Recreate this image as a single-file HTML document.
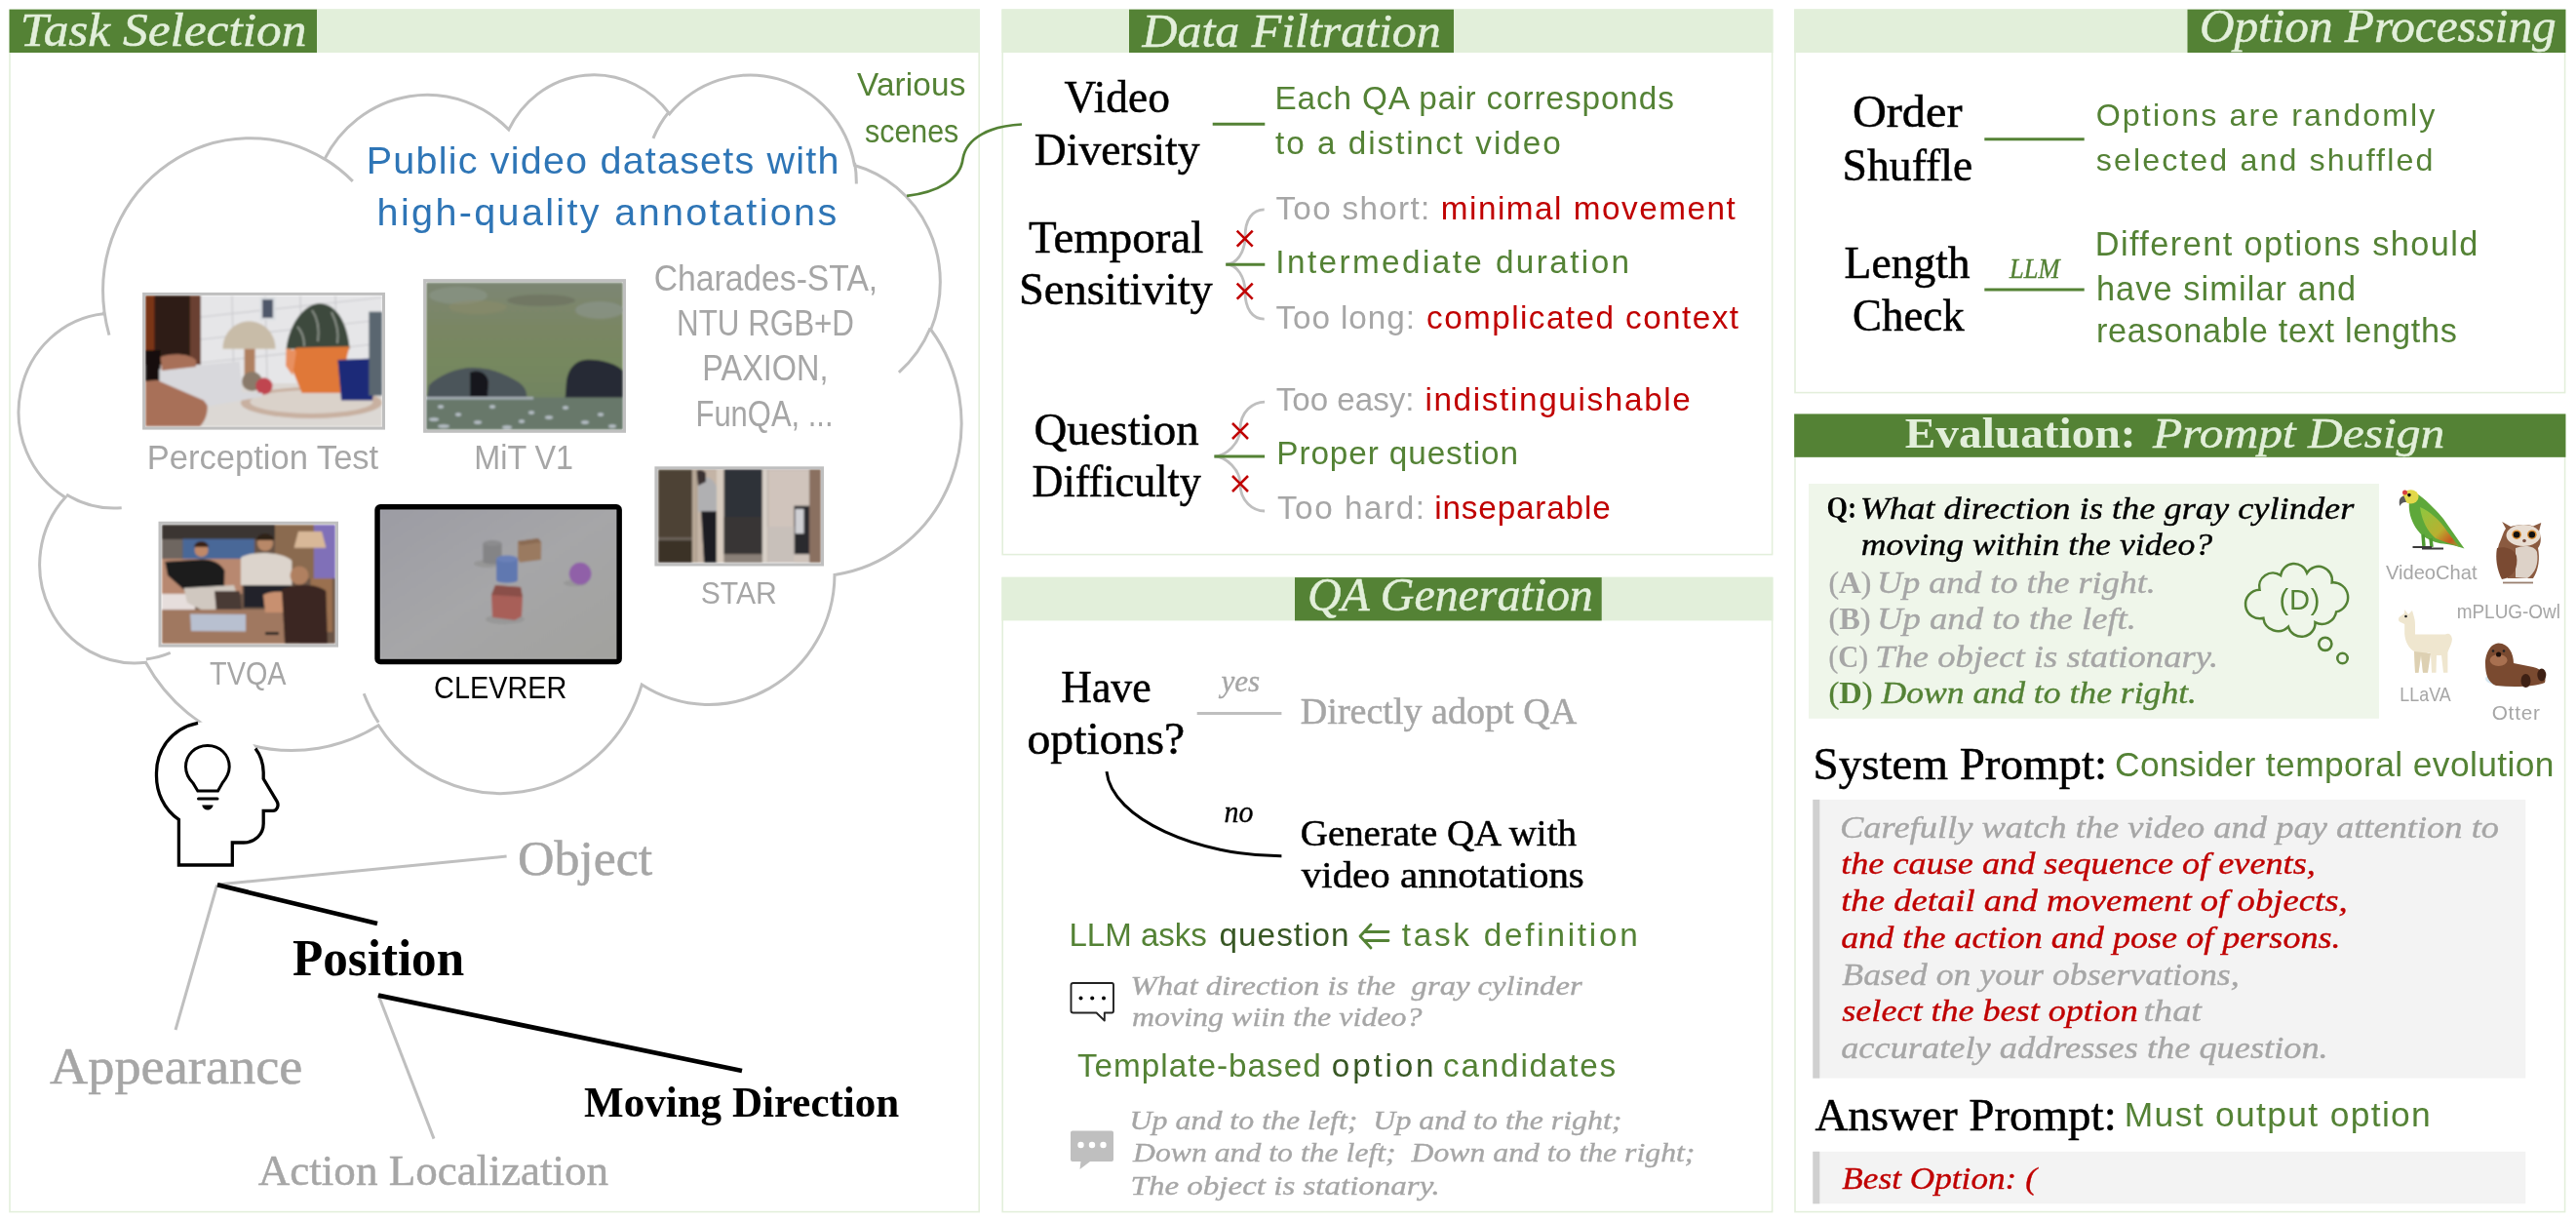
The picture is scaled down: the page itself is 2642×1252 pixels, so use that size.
<!DOCTYPE html><html><head><meta charset="utf-8"><style>html,body{margin:0;padding:0;background:#fff;overflow:hidden}svg{display:block;will-change:transform}</style></head><body>
<svg width="2642" height="1252" viewBox="0 0 2642 1252">
<rect width="2642" height="1252" fill="#fff"/>
<defs><filter id="soft" x="-5%" y="-5%" width="110%" height="110%"><feGaussianBlur stdDeviation="0.9"/></filter></defs>
<rect x="10.0" y="10.0" width="994.2" height="1232.6" fill="#fff" stroke="#e3efdb" stroke-width="1.6"/>
<rect x="9.2" y="9.7" width="995.8" height="44.3" fill="#e2efda"/>
<rect x="9.6" y="9.7" width="315.4" height="44.3" fill="#548235"/>
<rect x="1028.2" y="10.0" width="789.4" height="558.6" fill="#fff" stroke="#e3efdb" stroke-width="1.6"/>
<rect x="1027.4" y="9.7" width="791.0" height="44.3" fill="#e2efda"/>
<rect x="1158.0" y="9.7" width="333.0" height="44.3" fill="#548235"/>
<rect x="1028.2" y="592.4" width="789.4" height="650.2" fill="#fff" stroke="#e3efdb" stroke-width="1.6"/>
<rect x="1027.4" y="592.1" width="791.0" height="44.3" fill="#e2efda"/>
<rect x="1328.0" y="592.1" width="314.7" height="44.3" fill="#548235"/>
<rect x="1841.0" y="10.0" width="789.6" height="392.6" fill="#fff" stroke="#e3efdb" stroke-width="1.6"/>
<rect x="1840.2" y="9.7" width="791.2" height="44.3" fill="#e2efda"/>
<rect x="2243.5" y="9.7" width="387.9" height="44.3" fill="#548235"/>
<rect x="1841.0" y="424.8" width="789.6" height="817.8" fill="#fff" stroke="#e3efdb" stroke-width="1.6"/>
<rect x="1840.2" y="424.5" width="791.2" height="44.3" fill="#e2efda"/>
<rect x="1840.2" y="424.5" width="791.2" height="44.3" fill="#548235"/>
<path d="M107.0 319.4 A151.0 156.7 0 0 1 332.9 163.1 A119.2 123.9 0 0 1 521.8 132.9 A97.6 101.4 0 0 1 686.7 116.7 A108.6 112.4 0 0 1 876.4 169.5 A119.2 124.0 0 0 1 954.7 338.0 A151.5 157.2 0 0 1 856.0 589.4 A129.3 134.1 0 0 1 658.2 702.1 A151.0 157.1 0 0 1 388.2 743.8 A172.6 179.8 0 0 1 149.5 679.2 A97.5 100.9 0 0 1 67.0 510.0 A97.1 101.4 0 0 1 106.1 321.7 Z M124.7 520.7 A97.1 101.4 0 0 1 68.1 507.1 M174.7 669.4 A97.5 100.9 0 0 1 149.9 675.9 M388.2 740.9 A151.0 157.1 0 0 1 373.2 711.2 M954.2 336.2 A119.2 124.0 0 0 1 921.9 381.8 M876.6 166.9 A108.6 112.4 0 0 1 878.3 188.5 M669.9 141.8 A108.6 112.4 0 0 1 686.4 114.3 M332.8 162.9 A151.0 156.7 0 0 1 361.8 185.9 M112.0 343.6 A151.0 156.7 0 0 1 107.0 319.4" fill="none" stroke="#bfbfbf" stroke-width="3"/>
<path d="M203,741.3 C175,747 160,770 160.5,793.7 C160,812 168,830 183.4,840.4 L183.4,887 L238.3,887 L238.3,864 L249.7,864 C262,864 270.2,855 270.2,844.5 L270.2,831.4 L280,831.4 C284,831.4 286.5,826 284,821.6 L270.2,798.6 L270.2,792 C270,782 267,774 262,767.5 C250,745 225,736 203,741.3 Z" fill="#fff"/>
<path d="M203,741.3 C175,747 160,770 160.5,793.7 C160,812 168,830 183.4,840.4 L183.4,887 L238.3,887 L238.3,864 L249.7,864 C262,864 270.2,855 270.2,844.5 L270.2,831.4 L280,831.4 C284,831.4 286.5,826 284,821.6 L270.2,798.6 L270.2,792 C270,782 267,774 262,767.5" fill="none" stroke="#000" stroke-width="3.3" stroke-linejoin="miter"/>
<path d="M202.8,811 L198,803 C192,797 190.5,792 190.5,786.3 C190.5,774 200,764.5 212.9,764.5 C225.5,764.5 235.2,774 235.2,786.3 C235.2,792 233,797 228,803 L223.5,811 Z" fill="none" stroke="#000" stroke-width="3"/>
<line x1="203.5" y1="819" x2="223" y2="819" stroke="#000" stroke-width="3" stroke-linecap="round"/>
<path d="M207.2,825.5 L218.6,825.5 C218,829 215.5,830.5 212.9,830.5 C210.3,830.5 207.8,829 207.2,825.5 Z" fill="#000"/>
<line x1="222.6" y1="907" x2="519.6" y2="878" stroke="#bfbfbf" stroke-width="3"/>
<line x1="222.6" y1="907.5" x2="180" y2="1056" stroke="#bfbfbf" stroke-width="3"/>
<line x1="388" y1="1020" x2="445" y2="1167.6" stroke="#bfbfbf" stroke-width="3"/>
<line x1="223" y1="907.3" x2="387" y2="947" stroke="#000" stroke-width="4.7"/>
<line x1="388" y1="1020.6" x2="761" y2="1098" stroke="#000" stroke-width="4.7"/>
<path d="M930.1,200.9 C962,197 985,184 987.5,163 C991,141 1016,129 1048,127.5" fill="none" stroke="#548235" stroke-width="2.7"/>
<line x1="1243.7" y1="127.2" x2="1297.3" y2="127.2" stroke="#548235" stroke-width="3"/>
<path d="M1296.7,214.9 C1284.7,214.9 1277.0,224.9 1277.0,242.9 C1277.0,257.0 1269.2,271.0 1257.2,271.0 C1269.2,271.0 1277.0,285.0 1277.0,299.1 C1277.0,317.2 1284.7,327.2 1296.7,327.2" fill="none" stroke="#bfbfbf" stroke-width="2.8"/>
<line x1="1257.2" y1="271.3" x2="1297.3" y2="271.3" stroke="#548235" stroke-width="3"/>
<path d="M1297.1,412.1 C1285.1,412.1 1272.0,422.1 1272.0,440.1 C1272.0,454.0 1257.4,468.0 1245.4,468.0 C1257.4,468.0 1272.0,482.0 1272.0,496.0 C1272.0,514.0 1285.1,524.0 1297.1,524.0" fill="none" stroke="#bfbfbf" stroke-width="2.8"/>
<line x1="1245.4" y1="468" x2="1297.1" y2="468" stroke="#548235" stroke-width="3"/>
<path d="M1268.7,236.7 L1284.7,252.7 M1268.7,252.7 L1284.7,236.7" stroke="#c00000" stroke-width="2.6"/>
<path d="M1268.7,290.6 L1284.7,306.6 M1268.7,306.6 L1284.7,290.6" stroke="#c00000" stroke-width="2.6"/>
<path d="M1264.0,434.0 L1280.0,450.0 M1264.0,450.0 L1280.0,434.0" stroke="#c00000" stroke-width="2.6"/>
<path d="M1264.0,488.0 L1280.0,504.0 M1264.0,504.0 L1280.0,488.0" stroke="#c00000" stroke-width="2.6"/>
<line x1="1227.7" y1="731.5" x2="1314.4" y2="731.5" stroke="#bfbfbf" stroke-width="3"/>
<path d="M1135,791.2 C1140,840 1230,878 1314.4,877.8" fill="none" stroke="#000" stroke-width="3"/>
<path d="M1424,955.5 L1400,955.5 M1424,964.5 L1400,964.5 M1406,948 L1395,960 L1406,972" fill="none" stroke="#548235" stroke-width="2.8" stroke-linecap="round" stroke-linejoin="round"/>
<path d="M1100.8,1008 L1140.2,1008 Q1142,1008 1142,1010 L1142,1036.5 Q1142,1038.5 1140.2,1038.5 L1132.8,1038.5 L1132.8,1046.5 L1124.5,1038.5 L1100.8,1038.5 Q1098.5,1038.5 1098.5,1036.5 L1098.5,1010 Q1098.5,1008 1100.8,1008 Z" fill="#fff" stroke="#222" stroke-width="1.9" stroke-linejoin="round"/>
<circle cx="1108.5" cy="1023.5" r="2" fill="#000"/>
<circle cx="1120.2" cy="1023.5" r="2" fill="#000"/>
<circle cx="1132.0" cy="1023.5" r="2" fill="#000"/>
<path d="M1100,1159.6 L1140,1159.6 Q1142,1159.6 1142,1161.6 L1142,1189 Q1142,1191 1140,1191 L1118,1191 L1107.5,1199 L1108.5,1191 L1100,1191 Q1098,1191 1098,1189 L1098,1161.6 Q1098,1159.6 1100,1159.6 Z" fill="#bfbfbf"/>
<circle cx="1108.5" cy="1174" r="3.2" fill="#fff"/>
<circle cx="1120.0" cy="1174" r="3.2" fill="#fff"/>
<circle cx="1131.5" cy="1174" r="3.2" fill="#fff"/>
<line x1="2035.3" y1="142.8" x2="2137.7" y2="142.8" stroke="#548235" stroke-width="3"/>
<line x1="2035.3" y1="296.9" x2="2137.7" y2="296.9" stroke="#548235" stroke-width="3"/>
<rect x="1855" y="496" width="585" height="240.8" fill="#eff6ea"/>
<path d="M2339.1 590.0 A13.91 13.91 0 0 1 2366.1 587.6 A13.93 13.93 0 0 1 2391.7 597.4 A15.19 15.19 0 0 1 2396.1 627.4 A14.91 14.91 0 0 1 2374.5 638.2 A14.02 14.02 0 0 1 2347.0 642.6 A15.04 15.04 0 0 1 2321.4 633.8 A14.73 14.73 0 1 1 2317.5 604.8 A13.99 13.99 0 0 1 2339.1 590.0 Z" fill="none" stroke="#548235" stroke-width="2.5" stroke-linejoin="miter"/>
<circle cx="2384.8" cy="660.3" r="6.6" fill="none" stroke="#548235" stroke-width="2.6"/>
<circle cx="2402.5" cy="675" r="5.2" fill="none" stroke="#548235" stroke-width="2.6"/>
<rect x="1859.3" y="819.9" width="731" height="285.7" fill="#f3f3f3"/>
<rect x="1859.3" y="819.9" width="7" height="285.7" fill="#d0d0d0"/>
<rect x="1859.3" y="1180.8" width="731" height="53.5" fill="#f3f3f3"/>
<rect x="1859.3" y="1180.8" width="7" height="53.5" fill="#d0d0d0"/>
<g filter="url(#soft)"><clipPath id="cpt"><rect x="149.2" y="303" width="242.7" height="134.5"/></clipPath><g clip-path="url(#cpt)"><rect x="149" y="303" width="243" height="135" fill="#e6e6e8"/><path d="M206,325 L392,305 M206,348 L392,328 M206,372 L392,352 M238,303 L240,393 M272,303 L274,393 M308,303 L310,393 M344,303 L346,393" stroke="#cacace" stroke-width="1.2"/><rect x="149" y="303" width="57" height="71" fill="#2e1a12"/><rect x="149" y="303" width="9.4" height="58" fill="#7a3414"/><rect x="195" y="303" width="11" height="71" fill="#6a4030"/><rect x="149" y="359" width="15.6" height="32" fill="#141010"/><rect x="149" y="393" width="243" height="45" fill="#dcd8d4"/><ellipse cx="319.4" cy="413" rx="72.5" ry="16" fill="#c8b0a0"/><ellipse cx="319.4" cy="412" rx="63" ry="12" fill="#dad2ca"/><rect x="266.6" y="304.8" width="15.9" height="23.4" fill="#d8dce0"/><rect x="269" y="307" width="11" height="19" fill="#50586a"/><path d="M228.5,357.7 C228.5,340 242,329.4 255.5,329.4 C269,329.4 282.5,340 282.5,357.7 Z" fill="#c8bca8"/><rect x="250.6" y="357.7" width="11" height="40" fill="#b08060"/><ellipse cx="258.5" cy="391" rx="10.5" ry="10" fill="#8a7a6a"/><path d="M293.6,357.7 C296,335 310,312 328,311 C345,312 356,330 358.7,357.7 Z" fill="#3c4a3c"/><path d="M320,318 C325,325 328,335 326,350 M340,320 C345,330 348,340 346,352 M305,335 C310,340 312,348 312,355" stroke="#8a9088" stroke-width="2" fill="none"/><path d="M304.7,356.4 L358.7,355.2 L356.3,363.8 L348.9,403.1 L309.6,403.1 L293.6,363.8 Z" fill="#e07838"/><path d="M293.6,357 L304,360 L300,385 L293,375 Z" fill="#e89060"/><circle cx="270.9" cy="395.8" r="8.6" fill="#c04450"/><path d="M346.4,369 L383,367.5 L385.8,376 C392,378 392,392 384,395 L382,410.5 L350,410.5 Z" fill="#1c2a78"/><rect x="378.4" y="319.6" width="13.5" height="86" fill="#5a6670"/><path d="M149,391 C165,388 185,392 200,400 L212,412 C214,420 212,430 205,437.5 L149,437.5 Z" fill="#a87058"/><path d="M163.3,378.6 L245.7,370.6 L248.1,401.9 L269,403.1 L269,406.8 L213.7,416.7 L208.8,410.5 L163.3,390.8 Z" fill="#d8d8dc"/><path d="M164.6,366 C175,362 195,362 201.4,370 L201,376 L166,380 Z" fill="#a87058"/></g></g>
<rect x="147.6" y="301.4" width="245.9" height="137.7" fill="none" stroke="#bfbfbf" stroke-width="3.0"/>
<g filter="url(#soft)"><linearGradient id="gmit" x1="0" y1="0" x2="0" y2="1"><stop offset="0" stop-color="#7c8674"/><stop offset="0.3" stop-color="#7a8664"/><stop offset="0.55" stop-color="#76885e"/><stop offset="0.78" stop-color="#728462"/><stop offset="1" stop-color="#66766a"/></linearGradient><rect x="437" y="289.5" width="202" height="151" fill="url(#gmit)"/><ellipse cx="470" cy="303" rx="30" ry="9" fill="#8a9486" opacity="0.7"/><ellipse cx="555" cy="308" rx="35" ry="6" fill="#6a6e5e" opacity="0.6"/><ellipse cx="615" cy="318" rx="25" ry="9" fill="#8e9890" opacity="0.6"/><ellipse cx="490" cy="315" rx="30" ry="7" fill="#8e8c6a" opacity="0.5"/><path d="M438,408.4 L440,395 C450,385 468,377 485,377 C505,377 520,385 532,392 C538,396 541,402 540,408.4 Z" fill="#4c545a"/><path d="M482,382 C490,378 500,382 501,392 L500,407 L482,407 Z" fill="#16191e"/><path d="M579.5,409.8 L581,390 C583,378 590,370 600,369 C615,368 630,372 638.7,380 L638.7,409.8 Z" fill="#262a36"/><rect x="437" y="407.5" width="202" height="33" fill="#68786a"/><rect x="437" y="407" width="110" height="2.5" fill="#a8b0b8"/><ellipse cx="445" cy="430" rx="5" ry="1.8" fill="#b8c0c8"/><ellipse cx="455" cy="437" rx="6" ry="1.8" fill="#b8c0c8"/><ellipse cx="470" cy="425" rx="3" ry="1.8" fill="#b8c0c8"/><ellipse cx="490" cy="433" rx="4" ry="1.8" fill="#b8c0c8"/><ellipse cx="520" cy="438" rx="5" ry="1.8" fill="#b8c0c8"/><ellipse cx="545" cy="423" rx="3" ry="1.8" fill="#b8c0c8"/><ellipse cx="563" cy="428" rx="4" ry="1.8" fill="#b8c0c8"/><ellipse cx="580" cy="418" rx="3" ry="1.8" fill="#b8c0c8"/><ellipse cx="600" cy="433" rx="4" ry="1.8" fill="#b8c0c8"/><ellipse cx="616" cy="425" rx="3" ry="1.8" fill="#b8c0c8"/><ellipse cx="628" cy="437" rx="4" ry="1.8" fill="#b8c0c8"/><ellipse cx="505" cy="417" rx="3" ry="1.8" fill="#b8c0c8"/><ellipse cx="535" cy="432" rx="3" ry="1.8" fill="#b8c0c8"/><ellipse cx="452" cy="417" rx="3" ry="1.8" fill="#b8c0c8"/></g>
<rect x="435.6" y="287.6" width="204.9" height="154.7" fill="none" stroke="#bfbfbf" stroke-width="3.0"/>
<g filter="url(#soft)"><rect x="166" y="538" width="178" height="122" fill="#6a5446"/><rect x="166" y="538" width="178" height="15" fill="#3a3430"/><rect x="166" y="553" width="21.4" height="21" fill="#6e6660"/><rect x="187.4" y="552.6" width="73.5" height="21.4" fill="#4a6898"/><rect x="282" y="538" width="40" height="55" fill="#8a6a50"/><rect x="322" y="538" width="22" height="55" fill="#8070b8"/><path d="M306,545 L330,545 L334.4,561.7 L301.6,561.7 Z" fill="#d8b898"/><rect x="318.5" y="593" width="22.5" height="55" fill="#9a7050"/><rect x="166" y="573" width="82.4" height="36" fill="#b88870"/><path d="M169.3,576 L200,574 C215,572 225,576 230.4,585 L230,603.5 L190,606 L172,590 Z" fill="#1c1c1c"/><circle cx="206.6" cy="564" r="7" fill="#c08868"/><path d="M199,561 C200,553 213,553 214,561 Z" fill="#3a2418"/><rect x="166" y="609" width="34" height="18" fill="#e6dedc"/><path d="M188.5,603 L240,600 L246,620 L210,627 L192,618 Z" fill="#d0c8c0"/><path d="M220,606 L246,606 L248,628 L222,628 Z" fill="#4a3a34"/><path d="M247,572 C255,565 290,565 299.3,575 L299.3,600 L247,600 Z" fill="#dcd4cc"/><circle cx="272" cy="557" r="8" fill="#b88868"/><path d="M263,554 C264,545 280,545 281,554 Z" fill="#2e2018"/><rect x="250" y="600" width="48" height="23" fill="#24242a"/><rect x="166" y="625" width="141" height="35" fill="#a07860"/><path d="M270,610 C280,605 295,606 300,612 L300,628 L272,628 Z" fill="#c89070"/><path d="M289,604.6 C300,598 325,598 334.4,606 L336,659.8 L292,659.8 Z" fill="#3a2820"/><circle cx="307" cy="590" r="9.5" fill="#b08060"/><path d="M195,629.5 L252,630 L252,647.6 L196,647 Z" fill="#b8c0d0"/><rect x="272" y="648" width="14" height="3" fill="#202020"/></g>
<rect x="164.0" y="536.2" width="181.5" height="125.9" fill="none" stroke="#bfbfbf" stroke-width="3.0"/>
<g filter="url(#soft)"><linearGradient id="gcl" x1="0" y1="0" x2="1" y2="1"><stop offset="0" stop-color="#9c9ca4"/><stop offset="0.5" stop-color="#a6a6a8"/><stop offset="1" stop-color="#a2a29e"/></linearGradient><rect x="389" y="521.5" width="245" height="155" fill="url(#gcl)"/><ellipse cx="500" cy="578" rx="14" ry="4" fill="#969696"/><ellipse cx="518" cy="635" rx="20" ry="5" fill="#989898"/><ellipse cx="590" cy="598" rx="12" ry="3.5" fill="#989898"/><rect x="495.4" y="557" width="19.2" height="19" fill="#848486"/><ellipse cx="505" cy="557" rx="9.6" ry="3" fill="#8c8c8e"/><ellipse cx="505" cy="576" rx="9.6" ry="2.5" fill="#848486"/><path d="M531,555 L552,552 L555.2,556 L555,574 L533,576.8 L531,573 Z" fill="#9a7a60"/><path d="M531,555 L552,552 L555.2,556 L534,559 Z" fill="#8a6a52"/><rect x="509" y="573" width="22" height="22" fill="#6078b0"/><ellipse cx="520" cy="573" rx="11" ry="3.5" fill="#6a80b8"/><ellipse cx="520" cy="595" rx="11" ry="2.8" fill="#6078b0"/><circle cx="595.1" cy="588.2" r="11.4" fill="#9060a8"/><path d="M504,610 L508,600 L534,602 L536,612 L535,632 L528,636 L505,633 Z" fill="#a85e58"/><path d="M504,610 L508,600 L534,602 L536,612 Z" fill="#8a5048"/></g>
<rect x="387.05" y="519.75" width="248.1" height="158.8" rx="3" fill="none" stroke="#000" stroke-width="5.5"/>
<g filter="url(#soft)"><rect x="675" y="481.3" width="167" height="95.5" fill="#4e4236"/><rect x="675" y="552.3" width="35" height="24.5" fill="#3a3028"/><rect x="675" y="551" width="35" height="3" fill="#6a6058"/><rect x="709.9" y="481.3" width="4.7" height="95.5" fill="#b8a898"/><rect x="714.6" y="481.3" width="28" height="95.5" fill="#c4b4a6"/><path d="M716,495 C718,488 728,488 732,494 L738.8,505 L739,525 L716,525 Z" fill="#b0b0b2"/><path d="M714.6,483 C716,481.3 722,481.3 724,485 L724,494 L716,498 Z" fill="#3a3030"/><path d="M719,524.3 L739.8,524.3 L738,576.8 L722,576.8 Z" fill="#1a1c24"/><rect x="735" y="481.3" width="7.6" height="95.5" fill="#d8ccc0"/><rect x="742.6" y="481.3" width="39.2" height="87" fill="#2e3038"/><rect x="742.6" y="530" width="39.2" height="38" fill="#383634"/><rect x="742.6" y="568.2" width="39.2" height="8.6" fill="#8a8078"/><rect x="781.8" y="481.3" width="5.6" height="95.5" fill="#d8d0c8"/><rect x="787.4" y="481.3" width="43" height="95.5" fill="#d0c4bc"/><rect x="814.5" y="518.7" width="15.8" height="49.5" fill="#2a2a2e"/><rect x="815.5" y="522" width="9" height="25" fill="#d0d0d4"/><rect x="787.4" y="540" width="27" height="36.8" fill="#c8c0ba"/><rect x="830.3" y="481.3" width="11.7" height="95.5" fill="#8a7060"/></g>
<rect x="672.9" y="479.8" width="170.6" height="99.2" fill="none" stroke="#bfbfbf" stroke-width="3.0"/>
<linearGradient id="gpar" x1="0" y1="0" x2="1" y2="1"><stop offset="0" stop-color="#8cc840"/><stop offset="0.55" stop-color="#b8b030"/><stop offset="0.8" stop-color="#c85a20"/><stop offset="1" stop-color="#7ab838"/></linearGradient><path d="M2479.7,506.7 C2490,514 2500,524.7 2506,532 C2513,541.8 2520,552 2527.5,562.6 C2520,560 2513,558 2506,557.5 C2498,557 2490,553 2484.2,549 C2477,542 2473,533.7 2471.5,526 C2470.5,520 2470.7,518.4 2471,514 Z" fill="#5ea83a"/><path d="M2482,520 C2492,524 2503,534 2510,545 C2516,553 2520,558 2523,561 C2515,558 2505,555 2498,552 C2490,545 2484,535 2482,520 Z" fill="url(#gpar)"/><ellipse cx="2472.5" cy="509.4" rx="8" ry="7.2" fill="#e2d84a"/><circle cx="2466.5" cy="505" r="2.5" fill="#d84040"/><path d="M2465.5,508.5 C2461,509 2460,514 2461.3,519 C2463,515.5 2465,514.5 2468,515 Z" fill="#5a5a5a"/><circle cx="2470.9" cy="507.6" r="1.8" fill="#111"/><path d="M2485,548 L2486,560 M2493,552 L2494,561" stroke="#4e9a32" stroke-width="3.5"/><path d="M2474.5,561 L2494,561 M2484,562.5 L2506,562.5" stroke="#3a3a3a" stroke-width="2"/><path d="M2566.2,535.1 L2575,540 C2585,537.5 2592,537.5 2598,539.5 L2606.3,536 L2604,545 C2607,552 2606,558 2603,562 C2605,572 2604,584 2598,593 L2572,593 C2562,584 2559,570 2563,558 C2566,552 2567,546 2570,542 Z" fill="#8a5a40"/><ellipse cx="2588" cy="549" rx="17.5" ry="11" fill="#e8ddd2"/><path d="M2580,562 C2590,558 2600,560 2602,566 C2604,578 2600,588 2592,593 L2580,592 Z" fill="#ddd2c8"/><path d="M2561,562 C2568,560 2578,562 2581,570 C2583,582 2578,592 2566,594 C2561,585 2559,572 2561,562 Z" fill="#7a4a32"/><circle cx="2581.1" cy="548.2" r="4.8" fill="#d88a30"/><circle cx="2596.8" cy="548.2" r="4.8" fill="#d88a30"/><circle cx="2581.1" cy="548.2" r="3.3" fill="#111"/><circle cx="2596.8" cy="548.2" r="3.3" fill="#111"/><circle cx="2589" cy="554.5" r="1.8" fill="#7a5040"/><path d="M2567,597.5 L2598,597.5" stroke="#9a8070" stroke-width="1.8"/><path d="M2466.2,624.9 L2470,630 L2474,626 L2476,633 C2477,636 2477,640 2477,645 L2477,650.5 L2508,650.5 C2511,649 2514,650 2514.9,655 C2515,660 2512,664 2510.4,669 L2510.4,689.8 L2506,689.8 L2504,672 L2499,672 L2498.5,689.8 L2494,689.8 L2493,670 L2489.6,669 L2489.6,689.8 L2485,689.8 L2483,672 L2480.5,689.8 L2477,689.8 L2476,668 C2470,664 2467,658 2466.2,650 L2466.2,640 L2462,638 C2459.5,637 2459.5,634 2461,632.5 L2466,629 Z" fill="#efe6cf"/><path d="M2476,668 L2493,670 L2490,689.8 L2485,689.8 L2483,672 L2480.5,689.8 L2477,689.8 Z" fill="#ddd0b2"/><circle cx="2467.5" cy="632" r="1.3" fill="#222"/><ellipse cx="2579" cy="696" rx="30" ry="8.5" fill="#d6e8f2"/><path d="M2549,680 C2549,672 2553,660 2562.6,659.5 C2573,660 2578,670 2578,680 L2598,684 C2608,686 2612,694 2610,700 C2600,704 2580,705 2560,703 C2552,700 2549,692 2549,680 Z" fill="#7a4a30"/><ellipse cx="2562.6" cy="677" rx="9" ry="6" fill="#a87050"/><circle cx="2562.6" cy="671" r="2.6" fill="#1a0e0a"/><circle cx="2557" cy="667.5" r="1.3" fill="#222"/><circle cx="2568" cy="667.5" r="1.3" fill="#222"/><ellipse cx="2590.5" cy="698" rx="5" ry="7" fill="#3e2014"/><ellipse cx="2606.8" cy="692" rx="4.5" ry="6.5" fill="#3e2014"/>
<text x="20.8" y="47.0" font-family='"Liberation Serif", serif' font-size="48.0" fill="#e2efda" stroke="#e2efda" stroke-width="0.50" font-style="italic" font-weight="normal" textLength="293.6" lengthAdjust="spacingAndGlyphs" xml:space="preserve">Task Selection</text>
<text x="1171.4" y="47.8" font-family='"Liberation Serif", serif' font-size="48.0" fill="#e2efda" stroke="#e2efda" stroke-width="0.50" font-style="italic" font-weight="normal" textLength="306.4" lengthAdjust="spacingAndGlyphs" xml:space="preserve">Data Filtration</text>
<text x="1341.0" y="625.9" font-family='"Liberation Serif", serif' font-size="48.0" fill="#e2efda" stroke="#e2efda" stroke-width="0.50" font-style="italic" font-weight="normal" textLength="292.8" lengthAdjust="spacingAndGlyphs" xml:space="preserve">QA Generation</text>
<text x="2255.9" y="43.2" font-family='"Liberation Serif", serif' font-size="48.0" fill="#e2efda" stroke="#e2efda" stroke-width="0.50" font-style="italic" font-weight="normal" textLength="365.8" lengthAdjust="spacingAndGlyphs" xml:space="preserve">Option Processing</text>
<text x="1953.8" y="458.8" font-family='"Liberation Serif", serif' font-size="45.0" fill="#e2efda" font-style="normal" font-weight="bold" textLength="236.7" lengthAdjust="spacingAndGlyphs" xml:space="preserve">Evaluation:</text>
<text x="2208.0" y="458.8" font-family='"Liberation Serif", serif' font-size="45.0" fill="#e2efda" stroke="#e2efda" stroke-width="0.50" font-style="italic" font-weight="normal" textLength="299.2" lengthAdjust="spacingAndGlyphs" xml:space="preserve">Prompt Design</text>
<text x="879.0" y="98.0" font-family='"Liberation Sans", sans-serif' font-size="33.3" fill="#548235" font-style="normal" font-weight="normal" textLength="111.3" lengthAdjust="spacing" xml:space="preserve">Various</text>
<text x="887.1" y="145.8" font-family='"Liberation Sans", sans-serif' font-size="33.3" fill="#548235" font-style="normal" font-weight="normal" textLength="96.2" lengthAdjust="spacingAndGlyphs" xml:space="preserve">scenes</text>
<text x="375.8" y="178.4" font-family='"Liberation Sans", sans-serif' font-size="39.5" fill="#2e75b6" font-style="normal" font-weight="normal" textLength="484.7" lengthAdjust="spacing" xml:space="preserve">Public video datasets with</text>
<text x="386.6" y="231.0" font-family='"Liberation Sans", sans-serif' font-size="39.5" fill="#2e75b6" font-style="normal" font-weight="normal" textLength="471.6" lengthAdjust="spacing" xml:space="preserve">high-quality annotations</text>
<text x="670.7" y="298.0" font-family='"Liberation Sans", sans-serif' font-size="36.4" fill="#a6a6a6" font-style="normal" font-weight="normal" textLength="229.5" lengthAdjust="spacingAndGlyphs" xml:space="preserve">Charades-STA,</text>
<text x="694.1" y="344.0" font-family='"Liberation Sans", sans-serif' font-size="36.4" fill="#a6a6a6" font-style="normal" font-weight="normal" textLength="181.9" lengthAdjust="spacingAndGlyphs" xml:space="preserve">NTU RGB+D</text>
<text x="720.3" y="390.0" font-family='"Liberation Sans", sans-serif' font-size="36.4" fill="#a6a6a6" font-style="normal" font-weight="normal" textLength="129.1" lengthAdjust="spacingAndGlyphs" xml:space="preserve">PAXION,</text>
<text x="713.5" y="436.6" font-family='"Liberation Sans", sans-serif' font-size="36.4" fill="#a6a6a6" font-style="normal" font-weight="normal" textLength="141.0" lengthAdjust="spacingAndGlyphs" xml:space="preserve">FunQA, ...</text>
<text x="150.8" y="480.6" font-family='"Liberation Sans", sans-serif' font-size="35.4" fill="#a6a6a6" font-style="normal" font-weight="normal" textLength="237.4" lengthAdjust="spacingAndGlyphs" xml:space="preserve">Perception Test</text>
<text x="486.3" y="480.6" font-family='"Liberation Sans", sans-serif' font-size="35.4" fill="#a6a6a6" font-style="normal" font-weight="normal" textLength="101.8" lengthAdjust="spacingAndGlyphs" xml:space="preserve">MiT V1</text>
<text x="215.1" y="701.5" font-family='"Liberation Sans", sans-serif' font-size="33.3" fill="#a6a6a6" font-style="normal" font-weight="normal" textLength="78.4" lengthAdjust="spacingAndGlyphs" xml:space="preserve">TVQA</text>
<text x="445.1" y="716.0" font-family='"Liberation Sans", sans-serif' font-size="32.2" fill="#000" font-style="normal" font-weight="normal" textLength="136.3" lengthAdjust="spacingAndGlyphs" xml:space="preserve">CLEVRER</text>
<text x="718.7" y="618.8" font-family='"Liberation Sans", sans-serif' font-size="32.2" fill="#a6a6a6" font-style="normal" font-weight="normal" textLength="78.1" lengthAdjust="spacingAndGlyphs" xml:space="preserve">STAR</text>
<text x="530.9" y="897.0" font-family='"Liberation Serif", serif' font-size="50.0" fill="#a6a6a6" stroke="#a6a6a6" stroke-width="0.50" font-style="normal" font-weight="normal" textLength="138.4" lengthAdjust="spacingAndGlyphs" xml:space="preserve">Object</text>
<text x="300.0" y="1000.0" font-family='"Liberation Serif", serif' font-size="52.0" fill="#000" font-style="normal" font-weight="bold" textLength="176.1" lengthAdjust="spacingAndGlyphs" xml:space="preserve">Position</text>
<text x="51.0" y="1110.8" font-family='"Liberation Serif", serif' font-size="52.0" fill="#a6a6a6" stroke="#a6a6a6" stroke-width="0.50" font-style="normal" font-weight="normal" textLength="259.4" lengthAdjust="spacingAndGlyphs" xml:space="preserve">Appearance</text>
<text x="599.0" y="1145.0" font-family='"Liberation Serif", serif' font-size="44.0" fill="#000" font-style="normal" font-weight="bold" textLength="323.3" lengthAdjust="spacingAndGlyphs" xml:space="preserve">Moving Direction</text>
<text x="264.7" y="1214.7" font-family='"Liberation Serif", serif' font-size="45.0" fill="#a6a6a6" stroke="#a6a6a6" stroke-width="0.50" font-style="normal" font-weight="normal" textLength="359.4" lengthAdjust="spacingAndGlyphs" xml:space="preserve">Action Localization</text>
<text x="1091.6" y="115.0" font-family='"Liberation Serif", serif' font-size="46.0" fill="#000" stroke="#000" stroke-width="0.50" font-style="normal" font-weight="normal" textLength="108.3" lengthAdjust="spacingAndGlyphs" xml:space="preserve">Video</text>
<text x="1060.8" y="169.0" font-family='"Liberation Serif", serif' font-size="46.0" fill="#000" stroke="#000" stroke-width="0.50" font-style="normal" font-weight="normal" textLength="169.8" lengthAdjust="spacingAndGlyphs" xml:space="preserve">Diversity</text>
<text x="1307.4" y="112.4" font-family='"Liberation Sans", sans-serif' font-size="33.3" fill="#548235" font-style="normal" font-weight="normal" textLength="409.4" lengthAdjust="spacing" xml:space="preserve">Each QA pair corresponds</text>
<text x="1308.0" y="158.3" font-family='"Liberation Sans", sans-serif' font-size="33.3" fill="#548235" font-style="normal" font-weight="normal" textLength="292.8" lengthAdjust="spacing" xml:space="preserve">to a distinct video</text>
<text x="1055.0" y="259.0" font-family='"Liberation Serif", serif' font-size="46.0" fill="#000" stroke="#000" stroke-width="0.50" font-style="normal" font-weight="normal" textLength="179.4" lengthAdjust="spacingAndGlyphs" xml:space="preserve">Temporal</text>
<text x="1045.0" y="312.3" font-family='"Liberation Serif", serif' font-size="46.0" fill="#000" stroke="#000" stroke-width="0.50" font-style="normal" font-weight="normal" textLength="198.8" lengthAdjust="spacingAndGlyphs" xml:space="preserve">Sensitivity</text>
<text x="1308.4" y="224.8" font-family='"Liberation Sans", sans-serif' font-size="33.3" fill="#a6a6a6" font-style="normal" font-weight="normal" textLength="157.8" lengthAdjust="spacing" xml:space="preserve">Too short:</text>
<text x="1477.8" y="224.8" font-family='"Liberation Sans", sans-serif' font-size="33.3" fill="#c00000" font-style="normal" font-weight="normal" textLength="301.9" lengthAdjust="spacing" xml:space="preserve">minimal movement</text>
<text x="1308.3" y="279.8" font-family='"Liberation Sans", sans-serif' font-size="33.3" fill="#548235" font-style="normal" font-weight="normal" textLength="362.8" lengthAdjust="spacing" xml:space="preserve">Intermediate duration</text>
<text x="1308.4" y="337.0" font-family='"Liberation Sans", sans-serif' font-size="33.3" fill="#a6a6a6" font-style="normal" font-weight="normal" textLength="142.5" lengthAdjust="spacing" xml:space="preserve">Too long:</text>
<text x="1463.1" y="337.0" font-family='"Liberation Sans", sans-serif' font-size="33.3" fill="#c00000" font-style="normal" font-weight="normal" textLength="319.9" lengthAdjust="spacing" xml:space="preserve">complicated context</text>
<text x="1060.4" y="455.5" font-family='"Liberation Serif", serif' font-size="46.0" fill="#000" stroke="#000" stroke-width="0.50" font-style="normal" font-weight="normal" textLength="169.4" lengthAdjust="spacingAndGlyphs" xml:space="preserve">Question</text>
<text x="1058.6" y="509.0" font-family='"Liberation Serif", serif' font-size="46.0" fill="#000" stroke="#000" stroke-width="0.50" font-style="normal" font-weight="normal" textLength="173.2" lengthAdjust="spacingAndGlyphs" xml:space="preserve">Difficulty</text>
<text x="1308.7" y="420.5" font-family='"Liberation Sans", sans-serif' font-size="33.3" fill="#a6a6a6" font-style="normal" font-weight="normal" textLength="141.9" lengthAdjust="spacingAndGlyphs" xml:space="preserve">Too easy:</text>
<text x="1461.4" y="420.5" font-family='"Liberation Sans", sans-serif' font-size="33.3" fill="#c00000" font-style="normal" font-weight="normal" textLength="272.5" lengthAdjust="spacing" xml:space="preserve">indistinguishable</text>
<text x="1309.3" y="476.4" font-family='"Liberation Sans", sans-serif' font-size="33.3" fill="#548235" font-style="normal" font-weight="normal" textLength="247.7" lengthAdjust="spacing" xml:space="preserve">Proper question</text>
<text x="1309.9" y="532.3" font-family='"Liberation Sans", sans-serif' font-size="33.3" fill="#a6a6a6" font-style="normal" font-weight="normal" textLength="151.1" lengthAdjust="spacing" xml:space="preserve">Too hard:</text>
<text x="1471.3" y="532.3" font-family='"Liberation Sans", sans-serif' font-size="33.3" fill="#c00000" font-style="normal" font-weight="normal" textLength="180.4" lengthAdjust="spacing" xml:space="preserve">inseparable</text>
<text x="1088.3" y="720.0" font-family='"Liberation Serif", serif' font-size="46.0" fill="#000" stroke="#000" stroke-width="0.50" font-style="normal" font-weight="normal" textLength="92.3" lengthAdjust="spacingAndGlyphs" xml:space="preserve">Have</text>
<text x="1053.5" y="772.6" font-family='"Liberation Serif", serif' font-size="46.0" fill="#000" stroke="#000" stroke-width="0.50" font-style="normal" font-weight="normal" textLength="161.7" lengthAdjust="spacingAndGlyphs" xml:space="preserve">options?</text>
<text x="1252.4" y="709.3" font-family='"Liberation Serif", serif' font-size="31.0" fill="#a6a6a6" stroke="#a6a6a6" stroke-width="0.35" font-style="italic" font-weight="normal" textLength="39.7" lengthAdjust="spacingAndGlyphs" xml:space="preserve">yes</text>
<text x="1333.8" y="741.8" font-family='"Liberation Serif", serif' font-size="38.0" fill="#a6a6a6" stroke="#a6a6a6" stroke-width="0.50" font-style="normal" font-weight="normal" textLength="283.4" lengthAdjust="spacingAndGlyphs" xml:space="preserve">Directly adopt QA</text>
<text x="1255.6" y="843.0" font-family='"Liberation Serif", serif' font-size="31.0" fill="#000" stroke="#000" stroke-width="0.35" font-style="italic" font-weight="normal" textLength="29.9" lengthAdjust="spacingAndGlyphs" xml:space="preserve">no</text>
<text x="1333.8" y="867.0" font-family='"Liberation Serif", serif' font-size="38.0" fill="#000" stroke="#000" stroke-width="0.50" font-style="normal" font-weight="normal" textLength="283.1" lengthAdjust="spacingAndGlyphs" xml:space="preserve">Generate QA with</text>
<text x="1334.8" y="910.3" font-family='"Liberation Serif", serif' font-size="38.0" fill="#000" stroke="#000" stroke-width="0.50" font-style="normal" font-weight="normal" textLength="290.0" lengthAdjust="spacingAndGlyphs" xml:space="preserve">video annotations</text>
<text x="1096.4" y="970.2" font-family='"Liberation Sans", sans-serif' font-size="33.3" fill="#548235" font-style="normal" font-weight="normal" textLength="141.5" lengthAdjust="spacingAndGlyphs" xml:space="preserve">LLM asks</text>
<text x="1250.5" y="970.2" font-family='"Liberation Sans", sans-serif' font-size="33.3" fill="#375623" font-style="normal" font-weight="normal" textLength="133.1" lengthAdjust="spacing" xml:space="preserve">question</text>
<text x="1437.7" y="970.2" font-family='"Liberation Sans", sans-serif' font-size="33.3" fill="#548235" font-style="normal" font-weight="normal" textLength="242.0" lengthAdjust="spacing" xml:space="preserve">task definition</text>
<text x="1159.6" y="1019.7" font-family='"Liberation Serif", serif' font-size="28.0" fill="#a6a6a6" stroke="#a6a6a6" stroke-width="0.35" font-style="italic" font-weight="normal" textLength="463.0" lengthAdjust="spacingAndGlyphs" xml:space="preserve">What direction is the  gray cylinder</text>
<text x="1160.9" y="1052.3" font-family='"Liberation Serif", serif' font-size="28.0" fill="#a6a6a6" stroke="#a6a6a6" stroke-width="0.35" font-style="italic" font-weight="normal" textLength="297.7" lengthAdjust="spacingAndGlyphs" xml:space="preserve">moving wiin the video?</text>
<text x="1104.9" y="1104.0" font-family='"Liberation Sans", sans-serif' font-size="33.3" fill="#548235" font-style="normal" font-weight="normal" textLength="249.9" lengthAdjust="spacing" xml:space="preserve">Template-based</text>
<text x="1365.8" y="1104.0" font-family='"Liberation Sans", sans-serif' font-size="33.3" fill="#375623" font-style="normal" font-weight="normal" textLength="104.8" lengthAdjust="spacing" xml:space="preserve">option</text>
<text x="1480.1" y="1104.0" font-family='"Liberation Sans", sans-serif' font-size="33.3" fill="#548235" font-style="normal" font-weight="normal" textLength="177.0" lengthAdjust="spacing" xml:space="preserve">candidates</text>
<text x="1158.6" y="1158.3" font-family='"Liberation Serif", serif' font-size="28.0" fill="#a6a6a6" stroke="#a6a6a6" stroke-width="0.35" font-style="italic" font-weight="normal" textLength="504.9" lengthAdjust="spacingAndGlyphs" xml:space="preserve">Up and to the left;  Up and to the right;</text>
<text x="1162.0" y="1190.9" font-family='"Liberation Serif", serif' font-size="28.0" fill="#a6a6a6" stroke="#a6a6a6" stroke-width="0.35" font-style="italic" font-weight="normal" textLength="576.4" lengthAdjust="spacingAndGlyphs" xml:space="preserve">Down and to the left;  Down and to the right;</text>
<text x="1159.6" y="1224.8" font-family='"Liberation Serif", serif' font-size="28.0" fill="#a6a6a6" stroke="#a6a6a6" stroke-width="0.35" font-style="italic" font-weight="normal" textLength="317.2" lengthAdjust="spacingAndGlyphs" xml:space="preserve">The object is stationary.</text>
<text x="1899.9" y="130.3" font-family='"Liberation Serif", serif' font-size="46.0" fill="#000" stroke="#000" stroke-width="0.50" font-style="normal" font-weight="normal" textLength="112.6" lengthAdjust="spacingAndGlyphs" xml:space="preserve">Order</text>
<text x="1889.6" y="184.7" font-family='"Liberation Serif", serif' font-size="46.0" fill="#000" stroke="#000" stroke-width="0.50" font-style="normal" font-weight="normal" textLength="133.6" lengthAdjust="spacingAndGlyphs" xml:space="preserve">Shuffle</text>
<text x="2149.7" y="129.2" font-family='"Liberation Sans", sans-serif' font-size="32.2" fill="#548235" font-style="normal" font-weight="normal" textLength="347.7" lengthAdjust="spacing" xml:space="preserve">Options are randomly</text>
<text x="2149.7" y="175.4" font-family='"Liberation Sans", sans-serif' font-size="32.2" fill="#548235" font-style="normal" font-weight="normal" textLength="345.6" lengthAdjust="spacing" xml:space="preserve">selected and shuffled</text>
<text x="1891.6" y="284.7" font-family='"Liberation Serif", serif' font-size="46.0" fill="#000" stroke="#000" stroke-width="0.50" font-style="normal" font-weight="normal" textLength="129.0" lengthAdjust="spacingAndGlyphs" xml:space="preserve">Length</text>
<text x="1900.1" y="339.0" font-family='"Liberation Serif", serif' font-size="46.0" fill="#000" stroke="#000" stroke-width="0.50" font-style="normal" font-weight="normal" textLength="114.5" lengthAdjust="spacingAndGlyphs" xml:space="preserve">Check</text>
<text x="2061.0" y="284.7" font-family='"Liberation Serif", serif' font-size="29.0" fill="#548235" stroke="#548235" stroke-width="0.35" font-style="italic" font-weight="normal" textLength="51.5" lengthAdjust="spacingAndGlyphs" xml:space="preserve">LLM</text>
<text x="2148.7" y="261.6" font-family='"Liberation Sans", sans-serif' font-size="34.3" fill="#548235" font-style="normal" font-weight="normal" textLength="392.7" lengthAdjust="spacing" xml:space="preserve">Different options should</text>
<text x="2149.9" y="307.8" font-family='"Liberation Sans", sans-serif' font-size="34.3" fill="#548235" font-style="normal" font-weight="normal" textLength="266.3" lengthAdjust="spacing" xml:space="preserve">have similar and</text>
<text x="2149.9" y="351.3" font-family='"Liberation Sans", sans-serif' font-size="34.3" fill="#548235" font-style="normal" font-weight="normal" textLength="369.9" lengthAdjust="spacing" xml:space="preserve">reasonable text lengths</text>
<text x="1873.4" y="531.0" font-family='"Liberation Serif", serif' font-size="31.0" fill="#000" font-style="normal" font-weight="bold" textLength="30.8" lengthAdjust="spacingAndGlyphs" xml:space="preserve">Q:</text>
<text x="1907.7" y="531.8" font-family='"Liberation Serif", serif' font-size="31.0" fill="#000" stroke="#000" stroke-width="0.35" font-style="italic" font-weight="normal" textLength="506.7" lengthAdjust="spacingAndGlyphs" xml:space="preserve">What direction is the gray cylinder</text>
<text x="1908.8" y="569.0" font-family='"Liberation Serif", serif' font-size="31.0" fill="#000" stroke="#000" stroke-width="0.35" font-style="italic" font-weight="normal" textLength="360.4" lengthAdjust="spacingAndGlyphs" xml:space="preserve">moving within the video?</text>
<text x="1875.4" y="607.9" font-family='"Liberation Serif", serif' font-size="31.0" fill="#a6a6a6" stroke="#a6a6a6" stroke-width="0.35" font-style="normal" font-weight="normal" textLength="44.0" lengthAdjust="spacingAndGlyphs" xml:space="preserve"><tspan font-style="normal" font-weight="normal">(</tspan><tspan font-style="normal" font-weight="bold" stroke-width="0">A</tspan><tspan font-style="normal" font-weight="normal">)</tspan></text>
<text x="1925.1" y="607.9" font-family='"Liberation Serif", serif' font-size="31.0" fill="#a6a6a6" stroke="#a6a6a6" stroke-width="0.35" font-style="italic" font-weight="normal" textLength="285.7" lengthAdjust="spacingAndGlyphs" xml:space="preserve">Up and to the right.</text>
<text x="1875.4" y="645.0" font-family='"Liberation Serif", serif' font-size="31.0" fill="#a6a6a6" stroke="#a6a6a6" stroke-width="0.35" font-style="normal" font-weight="normal" textLength="43.3" lengthAdjust="spacingAndGlyphs" xml:space="preserve"><tspan font-style="normal" font-weight="normal">(</tspan><tspan font-style="normal" font-weight="bold" stroke-width="0">B</tspan><tspan font-style="normal" font-weight="normal">)</tspan></text>
<text x="1925.0" y="645.0" font-family='"Liberation Serif", serif' font-size="31.0" fill="#a6a6a6" stroke="#a6a6a6" stroke-width="0.35" font-style="italic" font-weight="normal" textLength="266.0" lengthAdjust="spacingAndGlyphs" xml:space="preserve">Up and to the left.</text>
<text x="1875.5" y="684.0" font-family='"Liberation Serif", serif' font-size="31.0" fill="#a6a6a6" stroke="#a6a6a6" stroke-width="0.35" font-style="normal" font-weight="normal" textLength="40.5" lengthAdjust="spacingAndGlyphs" xml:space="preserve"><tspan font-style="normal" font-weight="normal">(</tspan><tspan font-style="normal" font-weight="bold" stroke-width="0">C</tspan><tspan font-style="normal" font-weight="normal">)</tspan></text>
<text x="1923.1" y="684.0" font-family='"Liberation Serif", serif' font-size="31.0" fill="#a6a6a6" stroke="#a6a6a6" stroke-width="0.35" font-style="italic" font-weight="normal" textLength="352.0" lengthAdjust="spacingAndGlyphs" xml:space="preserve">The object is stationary.</text>
<text x="1875.4" y="721.2" font-family='"Liberation Serif", serif' font-size="31.0" fill="#548235" stroke="#548235" stroke-width="0.35" font-style="normal" font-weight="normal" textLength="45.1" lengthAdjust="spacingAndGlyphs" xml:space="preserve"><tspan font-style="normal" font-weight="normal">(</tspan><tspan font-style="normal" font-weight="bold" stroke-width="0">D</tspan><tspan font-style="normal" font-weight="normal">)</tspan></text>
<text x="1929.6" y="721.2" font-family='"Liberation Serif", serif' font-size="31.0" fill="#548235" stroke="#548235" stroke-width="0.35" font-style="italic" font-weight="normal" textLength="323.4" lengthAdjust="spacingAndGlyphs" xml:space="preserve">Down and to the right.</text>
<text x="2337.5" y="625.2" font-family='"Liberation Sans", sans-serif' font-size="29.1" fill="#548235" font-style="normal" font-weight="normal" textLength="41.9" lengthAdjust="spacing" xml:space="preserve">(D)</text>
<text x="2447.0" y="594.3" font-family='"Liberation Sans", sans-serif' font-size="20.8" fill="#a6a6a6" font-style="normal" font-weight="normal" textLength="93.5" lengthAdjust="spacingAndGlyphs" xml:space="preserve">VideoChat</text>
<text x="2519.7" y="634.3" font-family='"Liberation Sans", sans-serif' font-size="20.8" fill="#a6a6a6" font-style="normal" font-weight="normal" textLength="106.3" lengthAdjust="spacingAndGlyphs" xml:space="preserve">mPLUG-Owl</text>
<text x="2461.3" y="718.9" font-family='"Liberation Sans", sans-serif' font-size="20.8" fill="#a6a6a6" font-style="normal" font-weight="normal" textLength="52.4" lengthAdjust="spacingAndGlyphs" xml:space="preserve">LLaVA</text>
<text x="2555.7" y="738.0" font-family='"Liberation Sans", sans-serif' font-size="20.8" fill="#a6a6a6" font-style="normal" font-weight="normal" textLength="49.2" lengthAdjust="spacing" xml:space="preserve">Otter</text>
<text x="1859.6" y="799.3" font-family='"Liberation Serif", serif' font-size="47.0" fill="#000" stroke="#000" stroke-width="0.50" font-style="normal" font-weight="normal" textLength="301.5" lengthAdjust="spacingAndGlyphs" xml:space="preserve">System Prompt:</text>
<text x="2169.0" y="796.0" font-family='"Liberation Sans", sans-serif' font-size="35.4" fill="#548235" font-style="normal" font-weight="normal" textLength="450.5" lengthAdjust="spacing" xml:space="preserve">Consider temporal evolution</text>
<text x="1887.0" y="859.0" font-family='"Liberation Serif", serif' font-size="32.0" fill="#a6a6a6" stroke="#a6a6a6" stroke-width="0.35" font-style="italic" font-weight="normal" textLength="676.0" lengthAdjust="spacingAndGlyphs" xml:space="preserve">Carefully watch the video and pay attention to</text>
<text x="1888.2" y="896.0" font-family='"Liberation Serif", serif' font-size="32.0" fill="#c00000" stroke="#c00000" stroke-width="0.35" font-style="italic" font-weight="normal" textLength="486.6" lengthAdjust="spacingAndGlyphs" xml:space="preserve">the cause and sequence of events,</text>
<text x="1888.2" y="934.0" font-family='"Liberation Serif", serif' font-size="32.0" fill="#c00000" stroke="#c00000" stroke-width="0.35" font-style="italic" font-weight="normal" textLength="519.4" lengthAdjust="spacingAndGlyphs" xml:space="preserve">the detail and movement of objects,</text>
<text x="1888.2" y="972.0" font-family='"Liberation Serif", serif' font-size="32.0" fill="#c00000" stroke="#c00000" stroke-width="0.35" font-style="italic" font-weight="normal" textLength="512.4" lengthAdjust="spacingAndGlyphs" xml:space="preserve">and the action and pose of persons.</text>
<text x="1889.3" y="1009.8" font-family='"Liberation Serif", serif' font-size="32.0" fill="#a6a6a6" stroke="#a6a6a6" stroke-width="0.35" font-style="italic" font-weight="normal" textLength="407.4" lengthAdjust="spacingAndGlyphs" xml:space="preserve">Based on your observations,</text>
<text x="1889.3" y="1046.8" font-family='"Liberation Serif", serif' font-size="32.0" fill="#c00000" stroke="#c00000" stroke-width="0.35" font-style="italic" font-weight="normal" textLength="303.6" lengthAdjust="spacingAndGlyphs" xml:space="preserve">select the best option</text>
<text x="2198.5" y="1046.8" font-family='"Liberation Serif", serif' font-size="32.0" fill="#a6a6a6" stroke="#a6a6a6" stroke-width="0.35" font-style="italic" font-weight="normal" textLength="59.3" lengthAdjust="spacingAndGlyphs" xml:space="preserve">that</text>
<text x="1888.2" y="1085.0" font-family='"Liberation Serif", serif' font-size="32.0" fill="#a6a6a6" stroke="#a6a6a6" stroke-width="0.35" font-style="italic" font-weight="normal" textLength="499.5" lengthAdjust="spacingAndGlyphs" xml:space="preserve">accurately addresses the question.</text>
<text x="1861.4" y="1159.0" font-family='"Liberation Serif", serif' font-size="46.0" fill="#000" stroke="#000" stroke-width="0.50" font-style="normal" font-weight="normal" textLength="309.3" lengthAdjust="spacingAndGlyphs" xml:space="preserve">Answer Prompt:</text>
<text x="2178.8" y="1155.0" font-family='"Liberation Sans", sans-serif' font-size="35.4" fill="#548235" font-style="normal" font-weight="normal" textLength="314.0" lengthAdjust="spacing" xml:space="preserve">Must output option</text>
<text x="1889.3" y="1218.7" font-family='"Liberation Serif", serif' font-size="32.0" fill="#c00000" stroke="#c00000" stroke-width="0.35" font-style="italic" font-weight="normal" textLength="199.6" lengthAdjust="spacingAndGlyphs" xml:space="preserve">Best Option: (</text>
</svg></body></html>
